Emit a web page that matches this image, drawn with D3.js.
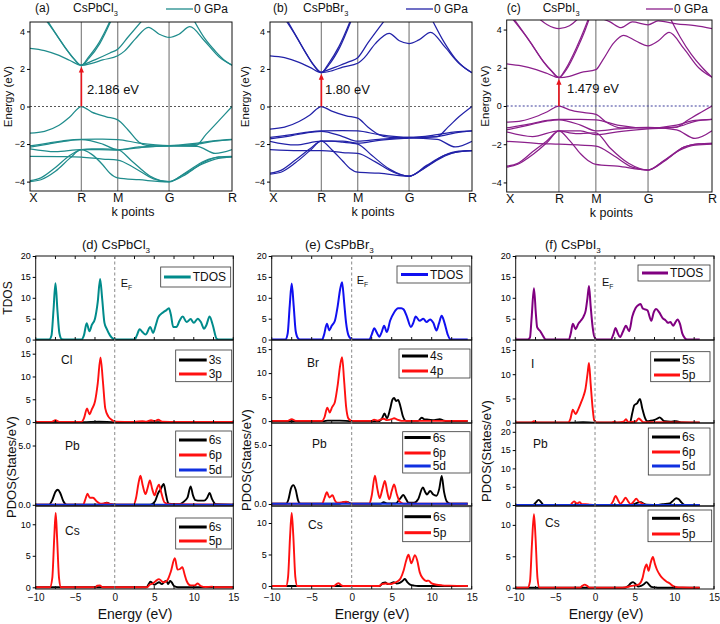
<!DOCTYPE html>
<html><head><meta charset="utf-8">
<script src="https://cdn.jsdelivr.net/npm/d3@7"></script>
<style>body{margin:0;background:#fff}svg{font-family:"Liberation Sans",Arial,sans-serif}</style>
</head><body>
<script>
// ---------------- DATA ----------------
const kTicks = [0, 0.707, 1.207, 1.914, 2.780];
const kLabels = ['X', 'R', 'M', 'G', 'R'];
const eTicks = [-4, -2, 0, 2, 4];
const eRange = [-4.5, 4.5];
const gaps = [2.186, 1.80, 1.479];
const gapLabels = ['2.186 eV', '1.80 eV', '1.479 eV'];

const bandsCl = [
 [[0,3.1],[0.2,2.98],[0.4,2.72],[0.55,2.45],[0.707,2.19],[0.85,2.3],[1.0,2.48],[1.207,2.7],[1.3,2.95],[1.45,3.6],[1.63,4.22],[1.78,3.85],[1.914,3.68],[2.05,3.85],[2.2,4.25],[2.4,3.5],[2.6,2.65],[2.78,2.2]],
 [[0.2,4.7],[0.35,3.9],[0.5,3.05],[0.6,2.55],[0.707,2.19],[0.8,2.6],[0.95,3.4],[1.12,4.7]],
 [[0.22,4.7],[0.36,3.85],[0.51,3.0],[0.61,2.52],[0.707,2.2],[0.81,2.56],[0.96,3.35],[1.13,4.7]],
 [[0.707,2.2],[0.9,2.5],[1.1,2.85],[1.207,3.05],[1.35,3.7],[1.57,4.7]],
 [[2.24,4.7],[2.4,3.65],[2.55,2.95],[2.68,2.45],[2.78,2.2]],
 [[0,-1.42],[0.2,-1.32],[0.4,-1.0],[0.55,-0.55],[0.707,0],[0.85,-0.3],[1.05,-0.55],[1.207,-0.71],[1.35,-1.25],[1.5,-1.9],[1.62,-2.08],[1.914,-2.1],[2.28,-2.08],[2.42,-1.5],[2.6,-0.75],[2.78,0]],
 [[0,-2.1],[0.25,-1.95],[0.5,-1.8],[0.707,-1.75],[1.0,-1.74],[1.207,-1.76],[1.5,-1.95],[1.914,-2.08],[2.3,-1.95],[2.55,-1.82],[2.78,-1.75]],
 [[0,-2.17],[0.25,-2.0],[0.5,-1.84],[0.707,-1.77],[1.0,-2.0],[1.207,-2.3],[1.5,-2.2],[1.914,-2.1],[2.3,-2.12],[2.55,-2.5],[2.78,-2.3]],
 [[0,-2.25],[0.35,-2.4],[0.707,-2.3],[0.95,-2.3],[1.207,-2.32],[1.5,-2.15],[1.914,-2.1],[2.3,-2.0],[2.55,-1.85],[2.78,-1.77]],
 [[0,-2.65],[0.4,-2.67],[0.707,-2.7],[1.0,-2.8],[1.207,-2.85],[1.45,-3.3],[1.7,-3.85],[1.914,-4.0],[2.15,-3.6],[2.4,-2.95],[2.6,-2.68],[2.78,-2.65]],
 [[0,-4.0],[0.15,-3.9],[0.35,-3.45],[0.55,-2.75],[0.707,-2.3],[0.85,-2.55],[1.0,-3.1],[1.1,-3.55],[1.207,-3.8],[1.5,-3.9],[1.914,-4.02],[2.15,-3.5],[2.4,-2.9],[2.6,-2.7],[2.78,-2.68]],
 [[0,-3.95],[0.15,-3.8],[0.35,-3.25],[0.55,-2.6],[0.707,-2.3],[0.85,-2.25],[1.0,-2.25],[1.207,-2.3],[1.4,-2.9],[1.65,-3.7],[1.914,-4.0],[2.1,-3.65],[2.35,-3.1],[2.55,-2.8],[2.78,-2.68]]
];
const bandsBr = [
 [[0,2.7],[0.2,2.6],[0.4,2.35],[0.55,2.08],[0.707,1.8],[0.85,1.9],[1.0,2.1],[1.207,2.3],[1.3,2.6],[1.45,3.35],[1.64,3.9],[1.78,3.5],[1.914,3.35],[2.05,3.55],[2.21,3.95],[2.4,3.2],[2.6,2.3],[2.78,1.8]],
 [[0.2,4.7],[0.35,3.8],[0.5,2.8],[0.6,2.2],[0.707,1.8],[0.8,2.25],[0.95,3.2],[1.12,4.7]],
 [[0.22,4.7],[0.36,3.75],[0.51,2.75],[0.61,2.17],[0.707,1.82],[0.81,2.22],[0.96,3.15],[1.13,4.7]],
 [[0.707,1.82],[0.9,2.1],[1.1,2.4],[1.207,2.6],[1.35,3.4],[1.6,4.7]],
 [[2.22,4.7],[2.4,3.4],[2.55,2.55],[2.68,2.05],[2.78,1.8]],
 [[0,-1.2],[0.2,-1.1],[0.4,-0.8],[0.55,-0.45],[0.707,0],[0.85,-0.25],[1.05,-0.5],[1.207,-0.62],[1.35,-1.1],[1.5,-1.5],[1.65,-1.65],[1.914,-1.65],[2.3,-1.6],[2.45,-1.1],[2.6,-0.55],[2.78,0]],
 [[0,-1.65],[0.3,-1.5],[0.55,-1.35],[0.707,-1.3],[1.0,-1.28],[1.207,-1.3],[1.5,-1.5],[1.914,-1.65],[2.3,-1.5],[2.55,-1.35],[2.78,-1.3]],
 [[0,-1.72],[0.3,-1.55],[0.55,-1.38],[0.707,-1.32],[1.0,-1.6],[1.207,-1.85],[1.5,-1.75],[1.914,-1.67],[2.3,-1.75],[2.55,-2.15],[2.78,-1.85]],
 [[0,-1.85],[0.35,-2.05],[0.707,-1.85],[1.0,-1.85],[1.207,-1.95],[1.5,-1.8],[1.914,-1.68],[2.3,-1.6],[2.55,-1.4],[2.78,-1.3]],
 [[0,-2.3],[0.4,-2.35],[0.707,-2.35],[1.0,-2.45],[1.207,-2.5],[1.45,-2.95],[1.7,-3.5],[1.914,-3.7],[2.15,-3.2],[2.4,-2.6],[2.6,-2.38],[2.78,-2.35]],
 [[0,-3.6],[0.15,-3.5],[0.35,-3.0],[0.55,-2.35],[0.707,-1.85],[0.85,-2.3],[1.0,-2.9],[1.1,-3.3],[1.207,-3.5],[1.5,-3.55],[1.914,-3.72],[2.15,-3.15],[2.4,-2.6],[2.6,-2.4],[2.78,-2.35]],
 [[0,-3.55],[0.15,-3.4],[0.35,-2.85],[0.55,-2.25],[0.707,-1.85],[0.85,-1.85],[1.0,-1.9],[1.207,-2.0],[1.4,-2.6],[1.65,-3.35],[1.914,-3.72],[2.1,-3.35],[2.35,-2.75],[2.55,-2.45],[2.78,-2.35]]
];
const bandsI = [
 [[0,2.2],[0.2,2.1],[0.4,1.9],[0.55,1.7],[0.707,1.48],[0.85,1.55],[1.0,1.75],[1.207,1.9],[1.3,2.4],[1.45,3.3],[1.58,3.7],[1.75,3.4],[1.914,3.15],[2.05,3.4],[2.2,3.85],[2.4,3.0],[2.6,2.0],[2.78,1.5]],
 [[0.05,4.7],[0.3,3.45],[0.5,2.3],[0.6,1.85],[0.707,1.48],[0.8,1.95],[0.95,3.1],[1.05,4.0],[1.12,4.7]],
 [[0.07,4.7],[0.31,3.4],[0.51,2.27],[0.61,1.83],[0.707,1.5],[0.81,1.92],[0.96,3.05],[1.06,3.95],[1.13,4.7]],
 [[0.4,4.7],[0.55,4.25],[0.707,4.05],[0.85,4.2],[1.0,4.7]],
 [[1.2,4.7],[1.4,4.4],[1.55,4.1],[1.7,4.4],[1.914,4.25],[2.05,4.45],[2.3,4.3],[2.55,4.2],[2.78,4.05]],
 [[2.2,4.7],[2.35,3.6],[2.5,2.7],[2.65,2.0],[2.78,1.5]],
 [[0,-0.85],[0.2,-0.78],[0.4,-0.55],[0.55,-0.3],[0.707,0],[0.85,-0.2],[1.05,-0.35],[1.207,-0.44],[1.35,-0.85],[1.55,-1.15],[1.914,-1.15],[2.3,-1.1],[2.45,-0.75],[2.6,-0.4],[2.78,0]],
 [[0,-1.15],[0.3,-0.95],[0.55,-0.75],[0.707,-0.7],[1.0,-0.7],[1.207,-0.72],[1.5,-1.0],[1.914,-1.15],[2.3,-1.0],[2.55,-0.75],[2.78,-0.7]],
 [[0,-1.25],[0.3,-1.0],[0.55,-0.78],[0.707,-0.72],[1.0,-1.0],[1.207,-1.3],[1.5,-1.2],[1.914,-1.12],[2.3,-1.25],[2.55,-1.7],[2.78,-1.3]],
 [[0,-1.35],[0.35,-1.6],[0.707,-1.3],[1.0,-1.3],[1.207,-1.5],[1.5,-1.35],[1.914,-1.2],[2.3,-1.1],[2.55,-0.8],[2.78,-0.7]],
 [[0,-1.85],[0.4,-1.95],[0.707,-2.0],[1.0,-2.05],[1.207,-2.1],[1.45,-2.6],[1.7,-3.2],[1.914,-3.35],[2.15,-2.85],[2.4,-2.15],[2.6,-1.98],[2.78,-1.95]],
 [[0,-3.2],[0.15,-3.05],[0.35,-2.55],[0.55,-1.9],[0.707,-1.3],[0.85,-1.8],[1.0,-2.5],[1.1,-2.85],[1.207,-3.05],[1.5,-3.15],[1.914,-3.35],[2.15,-2.8],[2.4,-2.15],[2.6,-1.98],[2.78,-1.95]],
 [[0,-3.15],[0.15,-3.0],[0.35,-2.4],[0.55,-1.8],[0.707,-1.3],[0.85,-1.4],[1.0,-1.45],[1.207,-1.4],[1.4,-2.2],[1.65,-3.0],[1.914,-3.35],[2.1,-2.95],[2.35,-2.3],[2.55,-2.05],[2.78,-2.0]]
];

// DOS data: [energy (eV), states/eV]
const tdosCl = [[-10,0],[-8.3,0],[-8.0,1],[-7.75,7],[-7.5,13.5],[-7.25,7],[-7.0,1.5],[-6.7,0.1],[-6.2,0],[-4.2,0],[-3.9,1],[-3.55,3.9],[-3.2,2],[-2.9,3.5],[-2.5,5],[-2.15,9],[-1.85,14.5],[-1.6,10],[-1.3,4],[-1.0,2.5],[-0.6,1],[-0.2,0.2],[0.2,0],[2.5,0],[2.8,1],[3.15,2.5],[3.5,1.8],[3.9,1.2],[4.5,3],[4.85,1.6],[5.2,3.5],[5.5,5.3],[6.1,6.5],[6.5,7],[6.85,7.5],[7.1,6],[7.4,3],[7.8,3],[8.2,4.5],[8.6,5.5],[9.1,4.2],[9.6,4.9],[10.0,4.0],[10.5,5.0],[10.9,4.2],[11.3,2.6],[11.6,3.5],[12.0,5.5],[12.4,3.5],[12.9,0.2],[13.2,0],[15,0]];
const cl3s = [[-10,0],[-7.5,0.05],[-4,0],[-2,0.08],[0,0],[15,0]];
const cl3p = [[-10,0.05],[-8,0.05],[-7.5,0.4],[-7,0.05],[-4.2,0.05],[-3.9,0.8],[-3.5,3],[-3.2,1.7],[-2.9,2.8],[-2.5,4.5],[-2.15,8.5],[-1.8,14.2],[-1.5,9],[-1.2,3],[-0.8,1.2],[-0.4,0.5],[0,0.1],[2.5,0.05],[3.5,0.2],[4.0,0.1],[4.6,0.4],[5.0,0.2],[5.5,0.5],[6.0,0.1],[8,0.05],[15,0.05]];
const pbCl6s = [[-10,0.02],[-8.3,0.02],[-7.9,0.4],[-7.5,1.1],[-7.2,1.27],[-6.9,1.0],[-6.5,0.3],[-6.1,0.02],[-1.6,0.02],[-1.0,0.18],[-0.5,0.05],[0,0.02],[4.5,0.02],[5.1,0.3],[5.5,1.0],[5.8,1.3],[6.2,1.75],[6.5,0.8],[6.8,0.1],[8.2,0.05],[8.6,0.2],[9.2,0.6],[9.6,1.55],[9.9,0.8],[10.2,0.4],[10.8,0.35],[11.3,0.35],[11.7,0.6],[12.0,1.0],[12.3,0.5],[12.8,0.05],[15,0.02]];
const pbCl6p = [[-10,0.02],[-4.0,0.02],[-3.7,0.5],[-3.45,0.93],[-3.15,0.6],[-2.75,0.6],[-2.3,0.3],[-1.8,0.1],[-1.0,0.15],[-0.5,0.05],[0,0.02],[2.4,0.02],[2.7,0.6],[3.0,1.8],[3.25,2.45],[3.55,1.6],[3.9,0.9],[4.15,1.4],[4.45,2.05],[4.75,1.3],[5.05,0.8],[5.3,1.3],[5.6,1.7],[5.9,1.0],[6.3,0.2],[7.0,0.05],[15,0.02]];
const pbCl5d = [[-10,0.02],[15,0.02]];
const csCl6s = [[-10,0],[4.0,0],[4.3,0.5],[4.5,0.9],[4.75,0.7],[5.0,0.4],[5.3,0.6],[5.6,0.8],[5.95,0.5],[6.3,0.9],[6.55,1.0],[6.75,0.5],[7.0,1.0],[7.2,0.8],[7.5,0.2],[8.0,0],[15,0]];
const csCl5p = [[-10,0],[-8.2,0],[-7.9,1.5],[-7.65,8],[-7.47,11.8],[-7.3,8],[-7.05,1.5],[-6.8,0],[-2.5,0],[-2.2,0.25],[-1.9,0.3],[-1.5,0],[4.1,0],[4.4,0.4],[4.8,0.6],[5.2,1.0],[5.6,1.3],[6.0,0.9],[6.3,0.8],[6.7,1.2],[7.1,2.5],[7.6,4.6],[7.95,2.8],[8.25,2.9],[8.55,3.2],[8.85,2.0],[9.1,1.0],[9.6,0.3],[10.1,0.3],[10.5,0.6],[10.9,0.2],[11.5,0.05],[12.3,0.1],[12.6,0],[15,0]];

const tdosBr = [[-10,0],[-8.3,0],[-8.0,1.5],[-7.75,8],[-7.5,13.4],[-7.25,8],[-7.0,2],[-6.7,0.3],[-6.4,0],[-3.7,0],[-3.45,1.2],[-3.1,3.8],[-2.8,2.2],[-2.5,3.3],[-2.1,4.5],[-1.75,8],[-1.45,12],[-1.2,13.7],[-0.95,9],[-0.7,4],[-0.4,1],[-0.1,0.2],[0.2,0],[2.2,0],[2.5,1.2],[2.83,2.7],[3.1,1.8],[3.45,0.7],[3.75,1.8],[4.05,3.3],[4.4,1.8],[4.8,4.5],[5.3,6.5],[5.8,7.5],[6.2,7.5],[6.5,7.2],[6.9,5.5],[7.4,3],[7.7,4],[8.0,5.5],[8.5,4.5],[8.95,5.0],[9.35,4.2],[9.8,4.8],[10.2,4.0],[10.6,2.2],[10.9,3.8],[11.25,5.7],[11.6,4],[12.0,1.2],[12.3,0.1],[12.6,0],[14.5,0]];
const br4s = [[-10,0],[-3.5,0],[-3,0.1],[-1.5,0.1],[0,0],[3.5,0],[3.8,0.6],[4.1,1.6],[4.4,0.6],[4.8,2.5],[5.1,4.5],[5.3,4.8],[5.55,4.2],[5.8,4.4],[6.1,3],[6.4,1.0],[6.8,0.05],[8.3,0.05],[8.75,0.7],[9.1,0.35],[9.6,0.3],[10.3,0.2],[11.0,0.4],[11.5,0.1],[12,0],[14.5,0]];
const br4p = [[-10,0.05],[-8,0.05],[-7.5,0.4],[-7,0.05],[-3.7,0.05],[-3.4,0.8],[-3.05,2.8],[-2.75,1.8],[-2.45,2.9],[-2.1,4.0],[-1.75,7.5],[-1.45,11.5],[-1.2,13.3],[-0.95,8.5],[-0.7,3],[-0.4,0.5],[0,0.05],[2.5,0.05],[2.8,0.3],[3.2,0.1],[4.0,0.5],[4.4,0.2],[5.0,0.4],[5.3,0.6],[5.7,0.3],[6.2,0.05],[14.5,0.05]];
const pbBr6s = [[-10,0.02],[-8.2,0.02],[-7.9,0.4],[-7.6,1.3],[-7.3,1.6],[-7.0,1.2],[-6.7,0.3],[-6.4,0.02],[-1.5,0.02],[-1.0,0.15],[-0.5,0.15],[0,0.02],[3.6,0.02],[4.0,0.15],[4.4,0.05],[5.5,0.05],[6.1,0.5],[6.45,0.76],[6.8,0.4],[7.1,0.1],[7.8,0.1],[8.3,0.4],[8.9,1.4],[9.2,1.0],[9.4,0.8],[9.8,1.1],[10.2,0.8],[10.6,0.7],[10.95,1.3],[11.25,2.37],[11.55,1.0],[11.9,0.2],[12.3,0.02],[14.5,0.02]];
const pbBr6p = [[-10,0.02],[-3.7,0.02],[-3.4,0.5],[-3.1,1.0],[-2.8,0.55],[-2.4,0.75],[-2.1,0.3],[-1.8,0.1],[-1.1,0.15],[-0.7,0.2],[-0.3,0.05],[0,0.02],[2.2,0.02],[2.5,0.7],[2.9,2.4],[3.2,1.3],[3.5,0.5],[3.85,1.3],[4.15,1.95],[4.45,1.0],[4.7,0.4],[5.0,1.1],[5.3,1.65],[5.65,0.8],[6.0,0.2],[6.5,0.02],[14.5,0.02]];
const pbBr5d = [[-10,0.02],[14.5,0.02]];
const csBr6s = [[-10,0],[3.5,0],[3.9,0.5],[4.2,0.55],[4.5,0.3],[4.9,0.4],[5.25,0.6],[5.6,0.4],[6.0,0.5],[6.35,0.8],[6.65,1.1],[6.95,0.6],[7.3,0.2],[7.8,0.05],[8.3,0],[14.5,0]];
const csBr5p = [[-10,0],[-8.2,0],[-7.95,1.5],[-7.7,8],[-7.5,11.6],[-7.3,8],[-7.05,1.5],[-6.8,0],[-2.2,0],[-1.9,0.3],[-1.65,0.45],[-1.4,0.2],[-1.1,0],[3.4,0],[3.8,0.3],[4.3,0.4],[4.8,0.3],[5.3,0.5],[5.7,0.7],[6.1,1.2],[6.5,2.5],[6.8,4.0],[7.1,4.95],[7.45,3.6],[7.9,4.9],[8.2,4.0],[8.5,2.2],[8.9,1.2],[9.3,0.8],[9.6,0.85],[10.0,0.4],[10.6,0.2],[11.3,0.1],[12.2,0.05],[14.5,0]];

const tdosI = [[-10,0],[-8.5,0],[-8.2,0.5],[-8.0,5],[-7.7,12.3],[-7.45,6],[-7.3,3],[-6.9,2],[-6.5,0.7],[-6.2,0],[-3.3,0],[-3.05,1.5],[-2.8,3.8],[-2.45,2.5],[-2.1,3.8],[-1.8,4.5],[-1.45,5.5],[-1.17,7],[-0.95,10],[-0.76,12.8],[-0.55,8],[-0.3,3],[-0.1,0.8],[0.2,0],[2.0,0],[2.3,1.2],[2.6,2.8],[2.85,1.6],[3.15,0.6],[3.5,1.8],[3.9,3.3],[4.3,2.0],[4.7,5.5],[5.1,7.5],[5.5,8.3],[5.75,8.5],[6.0,7.5],[6.2,7.3],[6.6,7.0],[7.1,4.5],[7.4,6.5],[7.7,7.3],[8.1,6.5],[8.5,5.2],[8.9,4.6],[9.2,4.0],[9.5,4.2],[9.85,3.3],[10.1,4.0],[10.4,4.8],[10.7,3.8],[11.0,1.5],[11.3,0.4],[11.6,0],[13.2,0]];
const i5s = [[-10,0],[-3,0],[-1.5,0.1],[0,0],[4.4,0],[4.7,2.0],[4.95,3.6],[5.3,4.0],[5.67,4.9],[5.95,3.0],[6.3,1.0],[6.6,0.3],[7.0,0.4],[7.5,0.6],[7.9,0.9],[8.15,1.1],[8.5,0.6],[8.8,0.3],[9.5,0.2],[10.2,0.3],[11.0,0.05],[13.2,0]];
const i5p = [[-10,0.05],[-8,0.05],[-7.7,0.3],[-7.3,0.05],[-3.4,0.05],[-3.1,0.8],[-2.8,2.7],[-2.45,1.8],[-2.1,2.8],[-1.8,4],[-1.45,5.5],[-1.2,7],[-0.95,10],[-0.76,12.3],[-0.55,8],[-0.3,3],[-0.1,0.5],[0.2,0.05],[2.1,0.05],[2.4,0.2],[2.8,0.05],[3.6,0.2],[3.9,0.7],[4.2,0.1],[5.2,0.3],[5.5,0.9],[5.8,0.5],[6.1,0.1],[13.2,0.05]];
const pbI6s = [[-10,0.02],[-7.8,0.02],[-7.5,0.6],[-7.1,1.4],[-6.8,0.8],[-6.5,0.05],[4.5,0.05],[5.0,0.3],[5.5,0.7],[5.8,0.8],[6.1,0.4],[6.5,0.1],[8.0,0.05],[8.5,0.2],[9.4,0.4],[9.8,1.1],[10.25,1.85],[10.6,1.5],[10.9,0.7],[11.3,0.05],[13.2,0.02]];
const pbI6p = [[-10,0.02],[-3.1,0.02],[-2.9,0.5],[-2.65,1.0],[-2.3,0.4],[-1.95,0.75],[-1.6,0.2],[-1.2,0.25],[-0.6,0.1],[0,0.02],[1.9,0.02],[2.25,0.9],[2.6,2.45],[2.9,1.3],[3.2,0.3],[3.55,1.1],[3.86,2.0],[4.2,0.9],[4.5,0.25],[4.85,0.9],[5.2,1.7],[5.5,1.0],[5.85,0.5],[6.3,0.05],[13.2,0.02]];
const pbI5d = [[-10,0.02],[13.2,0.02]];
const csI6s = [[-10,0],[3.8,0],[4.2,0.3],[4.5,0.7],[4.8,0.9],[5.1,0.6],[5.4,0.2],[5.8,0.3],[6.2,0.6],[6.5,0.9],[6.8,0.5],[7.1,0.15],[7.6,0.05],[8,0],[13.2,0]];
const csI5p = [[-10,0],[-8.5,0],[-8.2,1],[-7.95,7],[-7.7,11.7],[-7.5,8],[-7.25,1.5],[-7.0,0],[-1.9,0],[-1.6,0.3],[-1.3,0.5],[-1.0,0.3],[-0.7,0],[3.5,0],[4.0,0.1],[4.6,0.3],[5.2,0.4],[5.6,0.6],[6.0,1.6],[6.25,3.0],[6.5,3.7],[6.75,2.7],[7.0,3.9],[7.3,4.9],[7.55,3.8],[7.8,2.9],[8.2,2.0],[8.6,1.4],[9.0,1.0],[9.4,0.7],[9.8,0.3],[10.3,0.1],[11,0.05],[13.2,0]];

const dosXTicks = [-10, -5, 0, 5, 10, 15];
const dosXMinor = [-10,-7.5,-5,-2.5,0,2.5,5,7.5,10,12.5,15];

// ---------------- DRAW ----------------
const svg = d3.select('body').append('svg').attr('width', 720).attr('height', 624);

function subText(g, x, y, main, sub, size, anchor) {
  const t = g.append('text').attr('x', x).attr('y', y).attr('font-size', size).attr('text-anchor', anchor || 'start').attr('fill', '#111');
  t.append('tspan').text(main);
  if (sub) t.append('tspan').attr('dy', size * 0.3).attr('font-size', size * 0.62).text(sub);
  return t;
}

function drawBand(p) {
  const g = svg.append('g');
  const x = d3.scaleLinear().domain([kTicks[0], kTicks[4]]).range([p.x0, p.x1]);
  const y = d3.scaleLinear().domain(eRange).range([p.y1, p.y0]);
  g.append('clipPath').attr('id', 'cb' + p.id).append('rect')
    .attr('x', p.x0).attr('y', p.y0).attr('width', p.x1 - p.x0).attr('height', p.y1 - p.y0);
  const inner = g.append('g').attr('clip-path', `url(#cb${p.id})`);
  inner.selectAll('line.k').data(kTicks.slice(1, 4)).join('line')
    .attr('x1', d => x(d)).attr('x2', d => x(d)).attr('y1', p.y0).attr('y2', p.y1)
    .attr('stroke', '#8c8c8c').attr('stroke-width', 1.3);
  inner.append('line').attr('x1', p.x0).attr('x2', p.x1).attr('y1', y(0)).attr('y2', y(0))
    .attr('stroke', p.zeroColor).attr('stroke-width', 1).attr('stroke-dasharray', '2,2');
  const line = d3.line().x(d => x(d[0])).y(d => y(d[1])).curve(d3.curveMonotoneX);
  inner.selectAll('path.band').data(p.bands).join('path').attr('class', 'band')
    .attr('d', line).attr('fill', 'none').attr('stroke', p.color).attr('stroke-width', 1.25);
  // gap arrow
  const ax = x(kTicks[1]);
  g.append('line').attr('x1', ax).attr('x2', ax).attr('y1', y(0)).attr('y2', y(p.gap) + 4)
    .attr('stroke', '#e8141c').attr('stroke-width', 1.6);
  g.append('path').attr('d', `M${ax - 2.6},${y(p.gap) + 7}L${ax + 2.6},${y(p.gap) + 7}L${ax},${y(p.gap) + 1}Z`).attr('fill', '#e8141c');
  g.append('text').attr('x', p.gapX).attr('y', y(0) - 13).attr('font-size', 13).attr('fill', '#111').text(p.gapLabel);
  // frame
  g.append('rect').attr('x', p.x0).attr('y', p.y0).attr('width', p.x1 - p.x0).attr('height', p.y1 - p.y0)
    .attr('fill', 'none').attr('stroke', '#111').attr('stroke-width', 1);
  const ya = g.append('g').attr('transform', `translate(${p.x0},0)`)
    .call(d3.axisLeft(y).tickValues(eTicks).tickSize(3).tickPadding(2));
  ya.select('.domain').remove();
  ya.selectAll('text').attr('font-size', 9).attr('font-family', '"Liberation Sans",Arial');
  const xa = g.append('g').attr('transform', `translate(0,${p.y1})`)
    .call(d3.axisBottom(x).tickValues(kTicks).tickFormat((d, i) => kLabels[i]).tickSize(0).tickPadding(2));
  xa.select('.domain').remove();
  xa.selectAll('text').attr('font-size', 12.5).attr('font-family', '"Liberation Sans",Arial').attr('fill', '#111');
  xa.selectAll('.tick').filter((d, i) => i === 0).select('text').attr('dx', 3);
  g.append('text').attr('x', (p.x0 + p.x1) / 2 + 2).attr('y', p.y1 + 25).attr('text-anchor', 'middle')
    .attr('font-size', 12.5).attr('fill', '#111').text('k points');
  g.append('text').attr('transform', `translate(${p.labX},${y(0) - 10}) rotate(-90)`).attr('text-anchor', 'middle')
    .attr('font-size', 11.5).attr('fill', '#111').text('Energy (eV)');
  g.append('text').attr('x', p.x0 + p.tagDx).attr('y', 12).attr('font-size', 12).attr('fill', '#111').text(p.tag);
  subText(g, p.x0 + p.nameDx, 12, p.name, '3', 12);
  g.append('line').attr('x1', p.x1 - 66).attr('x2', p.x1 - 39).attr('y1', 9).attr('y2', 9)
    .attr('stroke', p.color).attr('stroke-width', 1.3);
  g.append('text').attr('x', p.x1 - 38).attr('y', 13).attr('font-size', 12).attr('fill', '#111').text('0 GPa');
}

drawBand({id: 'a', x0: 30, x1: 232, y0: 22, y1: 191, bands: bandsCl, color: '#1f8c8c', zeroColor: '#555',
  gap: gaps[0], gapLabel: gapLabels[0], gapX: 87, labX: 12, tag: '(a)', tagDx: 5, name: 'CsPbCl', nameDx: 43});
drawBand({id: 'b', x0: 270, x1: 472, y0: 22, y1: 191, bands: bandsBr, color: '#2222a8', zeroColor: '#666',
  gap: gaps[1], gapLabel: gapLabels[1], gapX: 325, labX: 249, tag: '(b)', tagDx: 3, name: 'CsPbBr', nameDx: 33});
drawBand({id: 'c', x0: 506.7, x1: 712, y0: 20, y1: 192, bands: bandsI, color: '#8b1f8b', zeroColor: '#3a3a9a',
  gap: gaps[2], gapLabel: gapLabels[2], gapX: 567, labX: 489, tag: '(c)', tagDx: 0, name: 'CsPbI', nameDx: 36});

const rows = [[256, 340], [340, 423], [423, 506], [506, 589]];

function drawDos(c) {
  const g = svg.append('g');
  const x = d3.scaleLinear().domain([-10, 15]).range([c.x0, c.x1]);
  const line = d3.line().curve(d3.curveMonotoneX);
  c.panels.forEach((p, i) => {
    const [t, b] = rows[i];
    const y = d3.scaleLinear().domain(p.domain).range([b, t]);
    const cid = 'cd' + c.id + i;
    g.append('clipPath').attr('id', cid).append('rect').attr('x', c.x0).attr('y', t).attr('width', c.x1 - c.x0).attr('height', b - t);
    const inner = g.append('g').attr('clip-path', `url(#${cid})`);
    p.series.forEach(s => {
      inner.append('path').attr('d', line.x(d => x(d[0])).y(d => y(d[1]))(s.data))
        .attr('fill', 'none').attr('stroke', s.color).attr('stroke-width', s.w || 1.9).attr('stroke-linejoin', 'round');
    });
    g.append('rect').attr('x', c.x0).attr('y', t).attr('width', c.x1 - c.x0).attr('height', b - t)
      .attr('fill', 'none').attr('stroke', '#111').attr('stroke-width', 1);
    g.selectAll(null).data(dosXMinor).join('line').attr('x1', d => x(d)).attr('x2', d => x(d))
      .attr('y1', b).attr('y2', b - 3).attr('stroke', '#111');
    if (i === 0) g.selectAll(null).data(dosXMinor).join('line').attr('x1', d => x(d)).attr('x2', d => x(d))
      .attr('y1', t).attr('y2', t + 3).attr('stroke', '#111');
    const ya = g.append('g').attr('transform', `translate(${c.x0},0)`)
      .call(d3.axisLeft(y).tickValues(p.ticks).tickSize(3).tickPadding(2));
    ya.select('.domain').remove();
    ya.selectAll('text').attr('font-size', 9).attr('font-family', '"Liberation Sans",Arial');
    const L = p.legend;
    g.append('rect').attr('x', L.x).attr('y', L.y).attr('width', L.w).attr('height', L.h)
      .attr('fill', '#fff').attr('stroke', '#333').attr('stroke-width', 0.8);
    L.items.forEach((it, j) => {
      const yy = L.rows[j];
      g.append('line').attr('x1', L.lx0).attr('x2', L.lx1).attr('y1', yy).attr('y2', yy)
        .attr('stroke', it.color).attr('stroke-width', 3);
      g.append('text').attr('x', L.lx1 + 2).attr('y', yy + 4).attr('font-size', 12).attr('fill', '#111').text(it.name);
    });
    if (p.label) g.append('text').attr('x', p.label[0]).attr('y', p.label[1]).attr('font-size', 12).attr('fill', '#111').text(p.label[2]);
  });
  g.append('line').attr('x1', x(0)).attr('x2', x(0)).attr('y1', rows[0][0]).attr('y2', rows[3][1])
    .attr('stroke', '#888').attr('stroke-width', 1).attr('stroke-dasharray', '3,2.5');
  const xa = g.append('g').attr('transform', `translate(0,${rows[3][1]})`)
    .call(d3.axisBottom(x).tickValues(dosXTicks).tickFormat(d3.format('d')).tickSize(0).tickPadding(5));
  xa.select('.domain').remove();
  xa.selectAll('text').attr('font-size', 10).attr('font-family', '"Liberation Sans",Arial').attr('fill', '#111');
  g.append('text').attr('x', c.ex).attr('y', 619).attr('text-anchor', 'middle').attr('font-size', 14).attr('fill', '#111').text('Energy (eV)');
  subText(g, c.tx, 249, c.title, '3', 13);
  subText(g, x(0) + c.efDx, c.efY, 'E', 'F', 11);
  if (c.tdosLab) g.append('text').attr('transform', `translate(${c.x0 - 24},298) rotate(-90)`).attr('text-anchor', 'middle')
    .attr('font-size', 12).attr('fill', '#111').text('TDOS');
  g.append('text').attr('transform', `translate(${c.px},${c.py}) rotate(-90)`).attr('text-anchor', 'middle')
    .attr('font-size', 13).attr('fill', '#111').text('PDOS(States/eV)');
}

const BLK = '#000', RED = '#ff1010', BLU = '#1030e0';

drawDos({id: 'd', x0: 35.7, x1: 233.3, ex: 135, tx: 82, title: '(d) CsPbCl', efDx: 6, efY: 287, tdosLab: true, px: 16, py: 467,
  panels: [
    {domain: [-0.1, 20], ticks: [0, 5, 10, 15, 20], series: [{data: tdosCl, color: '#008b8b', w: 2}],
      legend: {x: 160.7, y: 267, w: 70, h: 20, rows: [277], lx0: 164, lx1: 190.7, items: [{name: 'TDOS', color: '#008b8b'}]}},
    {domain: [-0.2, 18], ticks: [0, 5, 10, 15], series: [{data: cl3s, color: BLK}, {data: cl3p, color: RED}], label: [61, 364, 'Cl'],
      legend: {x: 175.7, y: 350, w: 56, h: 31.7, rows: [360, 374], lx0: 179, lx1: 206.7, items: [{name: '3s', color: BLK}, {name: '3p', color: RED}]}},
    {domain: [-0.1, 6.9], ticks: [0, 5], series: [{data: pbCl6s, color: BLK}, {data: pbCl6p, color: RED}, {data: pbCl5d, color: BLU}], label: [65, 450, 'Pb'],
      legend: {x: 175.7, y: 431, w: 56, h: 46, rows: [440, 455, 470], lx0: 179, lx1: 206.7, items: [{name: '6s', color: BLK}, {name: '6p', color: RED}, {name: '5d', color: BLU}]}},
    {domain: [-0.27, 12.9], ticks: [0, 5, 10], series: [{data: csCl6s, color: BLK}, {data: csCl5p, color: RED}], label: [65, 535, 'Cs'],
      legend: {x: 175.7, y: 518, w: 56, h: 31, rows: [527, 541], lx0: 179, lx1: 206.7, items: [{name: '6s', color: BLK}, {name: '5p', color: RED}]}}
  ]});

drawDos({id: 'e', x0: 271.7, x1: 471.7, ex: 372, tx: 305, title: '(e) CsPbBr', efDx: 5, efY: 284, tdosLab: false, px: 251, py: 460,
  panels: [
    {domain: [-0.1, 20], ticks: [0, 5, 10, 15, 20], series: [{data: tdosBr, color: '#1010f0', w: 2}],
      legend: {x: 397, y: 266, w: 73, h: 17, rows: [274.5], lx0: 401, lx1: 428, items: [{name: 'TDOS', color: '#1010f0'}]}},
    {domain: [-0.4, 16.9], ticks: [0, 5, 10, 15], series: [{data: br4s, color: BLK}, {data: br4p, color: RED}], label: [307, 367, 'Br'],
      legend: {x: 399, y: 349, w: 71, h: 29, rows: [356, 371], lx0: 402, lx1: 428, items: [{name: '4s', color: BLK}, {name: '4p', color: RED}]}},
    {domain: [-0.17, 6.86], ticks: [0, 5], series: [{data: pbBr6s, color: BLK}, {data: pbBr6p, color: RED}, {data: pbBr5d, color: BLU}], label: [312, 448, 'Pb'],
      legend: {x: 402.7, y: 431.7, w: 67.3, h: 41.3, rows: [437.5, 453, 466], lx0: 404.5, lx1: 430.7, items: [{name: '6s', color: BLK}, {name: '6p', color: RED}, {name: '5d', color: BLU}]}},
    {domain: [-0.48, 12.7], ticks: [0, 5, 10], series: [{data: csBr6s, color: BLK}, {data: csBr5p, color: RED}], label: [308, 529, 'Cs'],
      legend: {x: 402.7, y: 506.7, w: 67.3, h: 35, rows: [516.7, 532.7], lx0: 404.5, lx1: 431, items: [{name: '6s', color: BLK}, {name: '5p', color: RED}]}}
  ]});

drawDos({id: 'f', x0: 515.7, x1: 714, ex: 606, tx: 545, title: '(f) CsPbI', efDx: 7, efY: 286, tdosLab: false, px: 491, py: 451,
  panels: [
    {domain: [-0.1, 20], ticks: [0, 5, 10, 15, 20], series: [{data: tdosI, color: '#800080', w: 2}],
      legend: {x: 638, y: 265, w: 72, h: 16, rows: [273], lx0: 642, lx1: 668, items: [{name: 'TDOS', color: '#800080'}]}},
    {domain: [-0.06, 17.05], ticks: [0, 5, 10, 15], series: [{data: i5s, color: BLK}, {data: i5p, color: RED}], label: [531, 368, 'I'],
      legend: {x: 650.7, y: 351.7, w: 59.3, h: 30, rows: [360, 375], lx0: 654, lx1: 680, items: [{name: '5s', color: BLK}, {name: '5p', color: RED}]}},
    {domain: [-0.27, 22.4], ticks: [0, 5, 10, 15, 20], series: [{data: pbI6s, color: BLK}, {data: pbI6p, color: RED}, {data: pbI5d, color: BLU}], label: [533, 448, 'Pb'],
      legend: {x: 648.3, y: 428, w: 61.7, h: 47, rows: [437, 452, 466], lx0: 652, lx1: 680, items: [{name: '6s', color: BLK}, {name: '6p', color: RED}, {name: '5d', color: BLU}]}},
    {domain: [-0.2, 13.0], ticks: [0, 5, 10], series: [{data: csI6s, color: BLK}, {data: csI5p, color: RED}], label: [545, 527, 'Cs'],
      legend: {x: 648, y: 510, w: 63.7, h: 31.7, rows: [518.3, 534], lx0: 652, lx1: 680, items: [{name: '6s', color: BLK}, {name: '5p', color: RED}]}}
  ]});
</script>
</body></html>
